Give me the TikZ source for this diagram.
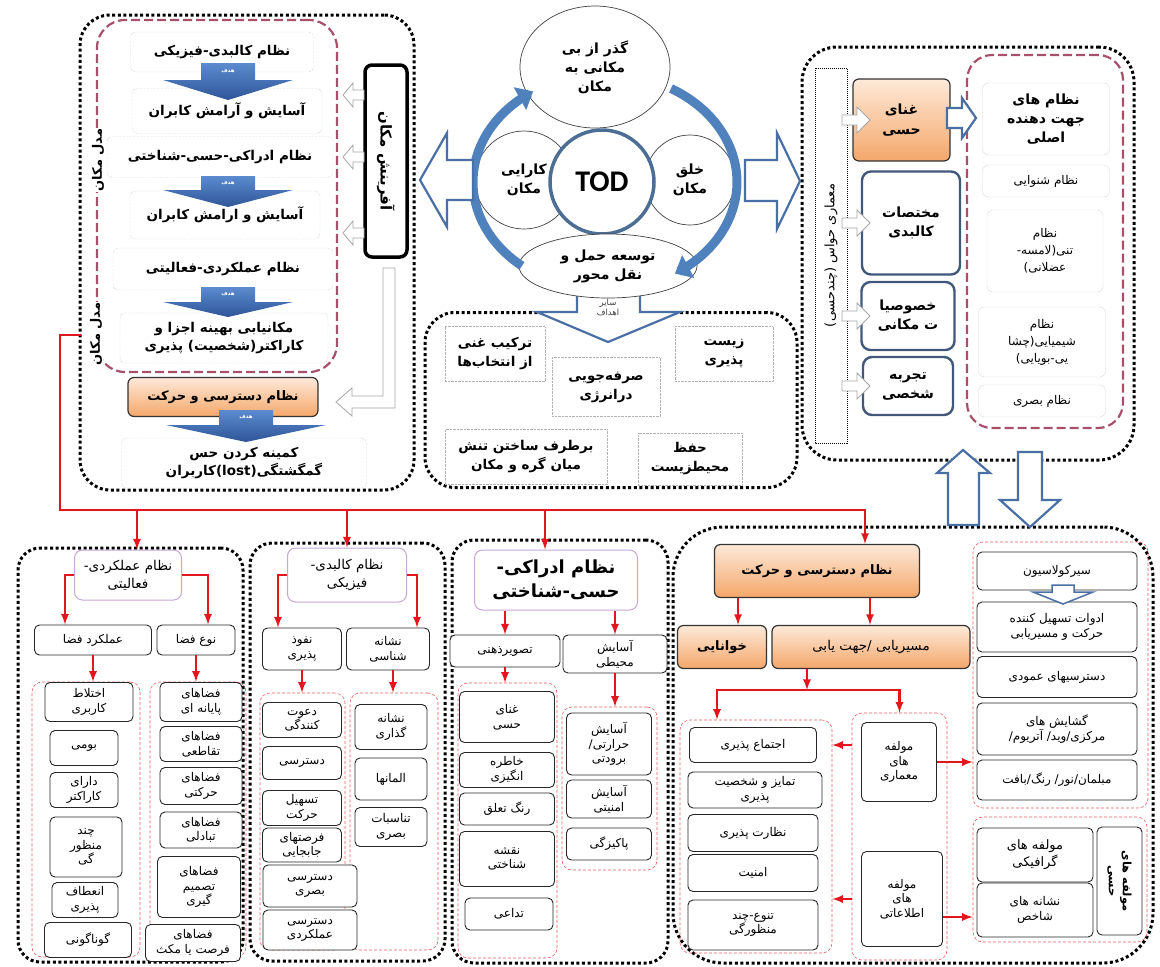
\documentclass[tikz,border=0pt]{standalone}
\usepackage{fontspec}
\usepackage{tikz}
\usetikzlibrary{shapes.geometric, arrows, arrows.meta}
\newfontfamily\farsi[Script=Arabic]{DejaVu Sans}
\newfontfamily\todfont{Carlito}
\TeXXeTstate=1
\newcommand{\rl}[1]{\beginR#1\endR}
\definecolor{peachtop}{HTML}{FDE9D9}
\definecolor{peachbot}{HTML}{F4A76A}
\definecolor{slate}{HTML}{41587A}
\definecolor{hollowblue}{HTML}{4A6FA5}
\definecolor{ringblue}{HTML}{4F81BD}
\definecolor{goaltop}{HTML}{5B8BD0}
\definecolor{goalbot}{HTML}{2E5597}
\definecolor{todblue}{HTML}{4C6E94}
\definecolor{linered}{HTML}{E3161E}
\definecolor{maroon}{HTML}{A8506A}
\definecolor{headviolet}{HTML}{C7A6D6}
\tikzstyle{panel} = [rectangle, draw=black, line width=3pt, dash pattern=on 3pt off 2.6pt, rounded corners=30pt]
\tikzstyle{modelframe} = [rectangle, rounded corners=28pt, draw=maroon, line width=2.2pt, dash pattern=on 9pt off 4pt]
\tikzstyle{sysbox} = [rectangle, rounded corners=5pt, draw=gray!60, densely dotted, fill=white, align=center,
    inner sep=1pt, font=\farsi\bfseries\fontsize{13.5}{18}\selectfont]
\tikzstyle{accessbox} = [rectangle, rounded corners=6pt, draw=black!80, line width=1.2pt, top color=peachtop,
    bottom color=peachbot, align=center, inner sep=1pt, font=\farsi\bfseries\fontsize{13}{17}\selectfont]
\tikzstyle{aimbox} = [rectangle, draw=gray!60, densely dotted, fill=white, align=center, inner sep=1pt,
    font=\farsi\bfseries\fontsize{13.5}{19}\selectfont]
\tikzstyle{roundshape} = [draw=black!75, line width=0.7pt, fill=white, align=center, inner sep=1pt,
    font=\farsi\bfseries\fontsize{14}{19}\selectfont]
\tikzstyle{senseitem} = [rectangle, rounded corners=9pt, draw=slate, line width=2.4pt, fill=white, align=center,
    inner sep=1pt, font=\farsi\bfseries\fontsize{14}{19}\selectfont]
\tikzstyle{sensesys} = [rectangle, rounded corners=6pt, draw=gray!30, fill=white, align=center, inner sep=1pt,
    font=\farsi\fontsize{12}{17}\selectfont]
\tikzstyle{headbox} = [rectangle, rounded corners=8pt, draw=headviolet, line width=1pt, fill=white, align=center,
    inner sep=1pt, font=\farsi\fontsize{13.5}{18}\selectfont]
\tikzstyle{itembox} = [rectangle, rounded corners=5pt, draw=black!85, line width=0.9pt, fill=white, align=center,
    inner sep=1pt, font=\farsi\fontsize{12}{14.5}\selectfont]
\tikzstyle{itemframe} = [rectangle, rounded corners=10pt, draw=linered!70, densely dashed, line width=0.6pt]
\tikzstyle{sidelabel} = [font=\farsi\bfseries\fontsize{13}{15}\selectfont, fill=white, inner sep=1pt]
\tikzstyle{hollowarrow} = [draw=hollowblue, line width=2.2pt, fill=white]
\tikzstyle{grayhollow} = [draw=gray!70, line width=0.8pt, fill=white]
\tikzstyle{goalarrow} = [top color=goaltop, bottom color=goalbot]
\tikzstyle{goaltag} = [font=\farsi\bfseries\fontsize{5.5}{6}\selectfont, text=white, inner sep=0pt]
\tikzstyle{redline} = [line width=2.6pt, draw=linered]
\tikzstyle{redarrow} = [redline, ->, >=latex]
\tikzstyle{ringarc} = [line width=9pt, draw=ringblue, -{Triangle[length=15pt,width=25pt]}]

\begin{document}
\begin{tikzpicture}[x=1pt, y=-1pt]
\useasboundingbox (0,0) rectangle (1160,967);

% Panels
\node[panel, minimum width=334, minimum height=475] (placepanel) at (247,252.5) {};
\node[panel, minimum width=372, minimum height=175] (aimpanel) at (611,400) {};
\node[panel, minimum width=332, minimum height=413, rounded corners=35pt] (sensepanel) at (968,253.5) {};
\node[panel, minimum width=225, minimum height=414, rounded corners=22pt] (perfpanel) at (130.5,755) {};
\node[panel, minimum width=195, minimum height=418, rounded corners=22pt] (kalpanel) at (347.5,752) {};
\node[panel, minimum width=216, minimum height=423, rounded corners=22pt] (edrakpanel) at (560,751.5) {};
\node[panel, minimum width=480, minimum height=436, rounded corners=50pt] (accesspanel) at (913,745) {};

% Place model (top left)
\node[modelframe, minimum width=240, minimum height=352] (modelbox) at (217,196) {};
\node[sidelabel, rotate=90] (model1) at (98,160) {\rl{مدل مکان}};
\node[sidelabel, rotate=90] (model2) at (96,334) {\rl{مدل مکان}};
\node[sysbox, minimum width=183, minimum height=40] (kalbadi) at (222,52) {\rl{نظام کالبدی-فیزیکی}};
\node[sysbox, minimum width=190, minimum height=45] (asayesh1) at (227,111) {\rl{آسایش و آرامش کابران}};
\node[sysbox, minimum width=226, minimum height=41] (edraki) at (220,157) {\rl{نظام ادراکی-حسی-شناختی}};
\node[sysbox, minimum width=190, minimum height=48] (asayesh2) at (225,215) {\rl{آسایش و ارامش کابران}};
\node[sysbox, minimum width=220, minimum height=42] (amalkardi) at (223,269) {\rl{نظام عملکردی-فعالیتی}};
\node[sysbox, minimum width=208, minimum height=50] (makanyabi) at (224,338)
    {\rl{مکانیابی بهینه اجزا و}\\\rl{کاراکتر(شخصیت) پذیری}};
\node[accessbox, minimum width=190, minimum height=39] (dastrasi1) at (223,397) {\rl{نظام دسترسی و حرکت}};
\node[sysbox, minimum width=245, minimum height=50] (gomgashtegi) at (244,463)
    {\rl{کمینه کردن حس}\\\rl{گمگشتگی(lost)کاربران}};
\node[draw=black, line width=3.5pt, rounded corners=7pt, fill=white, minimum width=192, minimum height=42,
    rotate=-90, font=\farsi\bfseries\fontsize{15}{17}\selectfont] (afarinesh) at (386,161) {\rl{آفرینش مکان}};
% Goal arrows
\path[goalarrow] (201,63) -- (255,63) -- (255,80) -- (293,80) -- (228,100) -- (163,80) -- (201,80) -- cycle;
\node[goaltag] (goal1) at (228,71) {\rl{هدف}};
\path[goalarrow] (201,176) -- (255,176) -- (255,190) -- (293,190) -- (228,207) -- (163,190) -- (201,190) -- cycle;
\node[goaltag] (goal2) at (228,183) {\rl{هدف}};
\path[goalarrow] (201,287) -- (255,287) -- (255,302) -- (293,302) -- (228,317) -- (163,302) -- (201,302) -- cycle;
\node[goaltag] (goal3) at (228,294) {\rl{هدف}};
\path[goalarrow] (219,410) -- (273,410) -- (273,425) -- (326,425) -- (246,442) -- (166,425) -- (219,425) -- cycle;
\node[goaltag] (goal4) at (246,417) {\rl{هدف}};
% Gray arrows
\draw[grayhollow] (364,90) -- (353,90) -- (353,83) -- (343,95) -- (353,107) -- (353,100) -- (364,100) -- cycle;
\draw[grayhollow, shift={(0,62)}] (364,90) -- (353,90) -- (353,83) -- (343,95) -- (353,107) -- (353,100) -- (364,100) -- cycle;
\draw[grayhollow, shift={(0,138)}] (364,90) -- (353,90) -- (353,83) -- (343,95) -- (353,107) -- (353,100) -- (364,100) -- cycle;
\draw[grayhollow] (383,268) -- (395,268) -- (395,408) -- (352,408) -- (352,416) -- (336,402) -- (352,388)
    -- (352,396) -- (383,396) -- cycle;

% Other goals (center bottom)
\path[hollowarrow] (577,290) -- (640,290) -- (640,312) -- (680,312) -- (608,342) -- (537,312) -- (577,312) -- cycle;
\node[aimbox, minimum width=100, minimum height=55] (tarkib) at (495,354) {\rl{ترکیب غنی}\\\rl{از انتخاب‌ها}};
\node[aimbox, minimum width=98, minimum height=55] (zist) at (724,354) {\rl{زیست}\\\rl{پذیری}};
\node[aimbox, minimum width=108, minimum height=59] (sarfe) at (606,387) {\rl{صرفه‌جویی}\\\rl{درانرژی}};
\node[aimbox, minimum width=162, minimum height=55] (bartaraf) at (526,457) {\rl{برطرف ساختن تنش}\\\rl{میان گره و مکان}};
\node[aimbox, minimum width=104, minimum height=52] (hefz) at (690,459) {\rl{حفظ}\\\rl{محیطزیست}};

% TOD cycle
\node[ellipse, roundshape, minimum width=150, minimum height=122] (gozar) at (595,67)
    {\rl{گذر از بی}\\\rl{مکانی به}\\\rl{مکان}};
\node[circle, roundshape, minimum size=98] (karayi) at (524,180) {\rl{کارایی}\\\rl{مکان}};
\node[circle, roundshape, minimum size=90] (khalgh) at (690,180) {\rl{خلق}\\\rl{مکان}};
\node[circle, draw=todblue, line width=3.5pt, fill=white, minimum size=104,
    font=\todfont\bfseries\fontsize{30}{30}\selectfont] (tod) at (602,182) {TOD};
\node[ellipse, roundshape, minimum width=178, minimum height=64] (tosee) at (608,266)
    {\rl{توسعه حمل و}\\\rl{نقل محور}};
\node[font=\farsi\fontsize{8.5}{10}\selectfont, text=black!75, align=center, inner sep=0pt] (sayer) at (608,307)
    {\rl{سایر}\\\rl{اهداف}};
\draw[ringarc] plot[domain=129:237, samples=40, smooth] ({605+132*cos(\x)}, {182+108*sin(\x)});
\draw[ringarc] plot[domain=-60:58, samples=40, smooth] ({605+132*cos(\x)}, {182+108*sin(\x)});
\path[hollowarrow] (473,160) -- (447,160) -- (447,133) -- (420,180) -- (447,227) -- (447,200) -- (473,200) -- cycle;
\path[hollowarrow] (745,160) -- (777,160) -- (777,133) -- (800,181) -- (777,229) -- (777,201) -- (745,201) -- cycle;

% Senses (top right)
\node[draw=black, densely dotted, line width=1pt, minimum width=375, minimum height=32, rotate=90,
    font=\farsi\fontsize{13}{15}\selectfont] (havas) at (831,255.5) {\rl{معماری حواس (چندحسی)}};
\node[modelframe, minimum width=156, minimum height=373, rounded corners=25pt] (senseframe) at (1045,241.5) {};
\node[accessbox, minimum width=97, minimum height=82, font=\farsi\bfseries\fontsize{14}{20}\selectfont] (ghana)
    at (901.5,120) {\rl{غنای}\\\rl{حسی}};
\node[senseitem, minimum width=98, minimum height=103] (mokhtasat) at (911,223) {\rl{مختصات}\\\rl{کالبدی}};
\node[senseitem, minimum width=93, minimum height=68] (khosusiat) at (908,316) {\rl{خصوصیا}\\\rl{ت مکانی}};
\node[senseitem, minimum width=90, minimum height=58] (tajrobe) at (908,386) {\rl{تجربه}\\\rl{شخصی}};
\draw[grayhollow] (842,115) -- (857,115) -- (857,107) -- (870,120) -- (857,133) -- (857,125) -- (842,125) -- cycle;
\draw[grayhollow, shift={(0,103)}] (842,115) -- (857,115) -- (857,107) -- (870,120) -- (857,133) -- (857,125) -- (842,125) -- cycle;
\draw[grayhollow, shift={(0,196)}] (842,115) -- (857,115) -- (857,107) -- (870,120) -- (857,133) -- (857,125) -- (842,125) -- cycle;
\draw[grayhollow, shift={(0,266)}] (842,115) -- (857,115) -- (857,107) -- (870,120) -- (857,133) -- (857,125) -- (842,125) -- cycle;
\path[hollowarrow] (947,108) -- (962,108) -- (962,98) -- (976,118) -- (962,138) -- (962,128) -- (947,128) -- cycle;
\node[sensesys, minimum width=127, minimum height=72, font=\farsi\bfseries\fontsize{14}{19}\selectfont] (jahat)
    at (1046,119) {\rl{نظام های}\\\rl{جهت دهنده}\\\rl{اصلی}};
\node[sensesys, minimum width=127, minimum height=32] (shenavayi) at (1046,181) {\rl{نظام شنوایی}};
\node[sensesys, minimum width=116, minimum height=82] (tani) at (1045,251) {\rl{نظام}\\\rl{تنی(لامسه-}\\\rl{عضلانی)}};
\node[sensesys, minimum width=127, minimum height=70] (shimiyayi) at (1042,342)
    {\rl{نظام}\\\rl{شیمیایی(چشا}\\\rl{یی-بویایی)}};
\node[sensesys, minimum width=127, minimum height=32] (basari) at (1042,401) {\rl{نظام بصری}};
\path[hollowarrow] (948,525) -- (948,473) -- (937,473) -- (963,450) -- (990,473) -- (979,473) -- (979,525) -- cycle;
\path[hollowarrow] (1018,452) -- (1042,452) -- (1042,500) -- (1060,500) -- (1030,527) -- (1000,500) -- (1018,500) -- cycle;

% Functional system
\node[headbox, minimum width=107, minimum height=50] (perfhead) at (128,575) {\rl{نظام عملکردی-}\\\rl{فعالیتی}};
\node[itembox, minimum width=117, minimum height=30] (func) at (93,640) {\rl{عملکرد فضا}};
\node[itembox, minimum width=78, minimum height=30] (type) at (196,640) {\rl{نوع فضا}};
\node[itemframe, minimum width=108, minimum height=275] (funcframe) at (86,819.5) {};
\node[itemframe, minimum width=96, minimum height=275] (typeframe) at (198,819.5) {};
\node[itembox, minimum width=88, minimum height=39] (ekhtelat) at (89,702) {\rl{اختلاط}\\\rl{کاربری}};
\node[itembox, minimum width=68, minimum height=35] (bumi) at (84,748) {\rl{بومی}};
\node[itembox, minimum width=68, minimum height=35] (darayi) at (84,790) {\rl{دارای}\\\rl{کاراکتر}};
\node[itembox, minimum width=72, minimum height=60] (chand) at (86,847) {\rl{چند}\\\rl{منظور}\\\rl{گی}};
\node[itembox, minimum width=66, minimum height=35] (enetaf) at (85,900) {\rl{انعطاف}\\\rl{پذیری}};
\node[itembox, minimum width=87, minimum height=35] (gunagun) at (88,940) {\rl{گوناگونی}};
\node[itembox, minimum width=82, minimum height=39] (payane) at (201,702) {\rl{فضاهای}\\\rl{پایانه ای}};
\node[itembox, minimum width=82, minimum height=35] (taghatoi) at (201,744) {\rl{فضاهای}\\\rl{تقاطعی}};
\node[itembox, minimum width=82, minimum height=37] (harakati) at (201,786) {\rl{فضاهای}\\\rl{حرکتی}};
\node[itembox, minimum width=82, minimum height=36] (tabadoli) at (201,830) {\rl{فضاهای}\\\rl{تبادلی}};
\node[itembox, minimum width=83, minimum height=61] (tasmim) at (199,887) {\rl{فضاهای}\\\rl{تصمیم}\\\rl{گیری}};
\node[itembox, minimum width=95, minimum height=37] (forsat) at (193,943) {\rl{فضاهای}\\\rl{فرصت یا مکث}};
\draw[redarrow] (perfhead.west) -| ([xshift=-28]func.north);
\draw[redarrow] (perfhead.east) -| ([xshift=12]type.north);
\draw[redarrow] (func.south) -- (func.south |- funcframe.north);
\draw[redarrow] (type.south) -- (type.south |- typeframe.north);

% Physical system
\node[headbox, minimum width=119, minimum height=54] (kalhead) at (347,575) {\rl{نظام کالبدی-}\\\rl{فیزیکی}};
\node[itembox, minimum width=79, minimum height=42] (nofuz) at (302,649) {\rl{نفوذ}\\\rl{پذیری}};
\node[itembox, minimum width=83, minimum height=42] (neshane) at (388,649) {\rl{نشانه}\\\rl{شناسی}};
\node[itemframe, minimum width=85, minimum height=257] (nofuzframe) at (302.5,821.5) {};
\node[itemframe, minimum width=88, minimum height=257] (neshaneframe) at (394,821.5) {};
\node[itembox, minimum width=79, minimum height=35] (davat) at (302,720) {\rl{دعوت}\\\rl{کنندگی}};
\node[itembox, minimum width=79, minimum height=33] (dastrasi2) at (302,763) {\rl{دسترسی}};
\node[itembox, minimum width=79, minimum height=35] (tashil) at (302,808) {\rl{تسهیل}\\\rl{حرکت}};
\node[itembox, minimum width=79, minimum height=34] (forsatha) at (302,845) {\rl{فرصتهای}\\\rl{جابجایی}};
\node[itembox, minimum width=94, minimum height=42] (basari2) at (310,886) {\rl{دسترسی}\\\rl{بصری}};
\node[itembox, minimum width=94, minimum height=40] (amalkardi2) at (310,930) {\rl{دسترسی}\\\rl{عملکردی}};
\node[itembox, minimum width=72, minimum height=45] (gozari) at (391,727) {\rl{نشانه}\\\rl{گذاری}};
\node[itembox, minimum width=72, minimum height=42] (elemanha) at (391,779) {\rl{المانها}};
\node[itembox, minimum width=72, minimum height=39] (tanasobat) at (391,827) {\rl{تناسبات}\\\rl{بصری}};
\draw[redarrow] (kalhead.west) -| ([xshift=-24]nofuz.north);
\draw[redarrow] (kalhead.east) -| ([xshift=29]neshane.north);
\draw[redarrow] (nofuz.south) -- (nofuz.south |- nofuzframe.north);
\draw[redarrow] ([xshift=5]neshane.south) -- ([xshift=5]neshane.south |- neshaneframe.north);

% Perceptual system
\node[headbox, minimum width=163, minimum height=60, font=\farsi\bfseries\fontsize{18}{24}\selectfont] (edrakhead)
    at (556,580) {\rl{نظام ادراکی-}\\\rl{حسی-شناختی}};
\node[itembox, minimum width=110, minimum height=32] (tasvir) at (505,651) {\rl{تصویرذهنی}};
\node[itembox, minimum width=104, minimum height=38] (mohiti) at (615,654) {\rl{آسایش}\\\rl{محیطی}};
\node[itemframe, minimum width=99, minimum height=275] (tasvirframe) at (507.5,820.5) {};
\node[itemframe, minimum width=95, minimum height=163] (mohitiframe) at (609.5,788.5) {};
\node[itembox, minimum width=95, minimum height=51] (ghana2) at (507,717) {\rl{غنای}\\\rl{حسی}};
\node[itembox, minimum width=95, minimum height=35] (khatere) at (507,770) {\rl{خاطره}\\\rl{انگیزی}};
\node[itembox, minimum width=95, minimum height=32] (rang) at (507,809) {\rl{رنگ تعلق}};
\node[itembox, minimum width=95, minimum height=55] (naghshe) at (507,859) {\rl{نقشه}\\\rl{شناختی}};
\node[itembox, minimum width=88, minimum height=32] (tadai) at (509,914) {\rl{تداعی}};
\node[itembox, minimum width=85, minimum height=62] (hararati) at (609,744) {\rl{آسایش}\\\rl{حرارتی/}\\\rl{برودتی}};
\node[itembox, minimum width=85, minimum height=38] (amniati) at (609,799) {\rl{آسایش}\\\rl{امنیتی}};
\node[itembox, minimum width=85, minimum height=32] (pakizegi) at (609,844) {\rl{پاکیزگی}};
\draw[redarrow] (edrakhead.south -| tasvir.north) -- (tasvir.north);
\draw[redarrow] (edrakhead.south -| mohiti.north) -- (mohiti.north);
\draw[redarrow] (tasvir.south) -- (tasvir.south |- tasvirframe.north);
\draw[redarrow] (mohiti.south) -- (mohiti.south |- mohitiframe.north);

% Access and movement system
\node[accessbox, minimum width=205, minimum height=53] (accesshead) at (817,571) {\rl{نظام دسترسی و حرکت}};
\node[accessbox, minimum width=89, minimum height=43] (khanayi) at (722,647) {\rl{خوانایی}};
\node[accessbox, minimum width=198, minimum height=43, font=\farsi\fontsize{13.5}{16}\selectfont] (masir)
    at (871,647) {\rl{مسیریابی /جهت یابی}};
\node[itemframe, minimum width=152, minimum height=233] (socialframe) at (756,836.5) {};
\node[itemframe, minimum width=95, minimum height=247] (compframe) at (899.5,836.5) {};
\node[itembox, minimum width=127, minimum height=35] (ejtema) at (753,745) {\rl{اجتماع پذیری}};
\node[itembox, minimum width=134, minimum height=36] (tamayoz) at (755,790) {\rl{تمایز و شخصیت}\\\rl{پذیری}};
\node[itembox, minimum width=130, minimum height=37] (nezarat) at (753,833) {\rl{نظارت پذیری}};
\node[itembox, minimum width=130, minimum height=37] (amniat) at (753,873) {\rl{امنیت}};
\node[itembox, minimum width=130, minimum height=50] (tanavo) at (753,925) {\rl{تنوع-چند}\\\rl{منظورگی}};
\node[itembox, minimum width=75, minimum height=79] (memari) at (899,762) {\rl{مولفه}\\\rl{های}\\\rl{معماری}};
\node[itembox, minimum width=81, minimum height=95] (etelaati) at (902,899) {\rl{مولفه}\\\rl{های}\\\rl{اطلاعاتی}};
\node[itemframe, minimum width=175, minimum height=266] (circframe) at (1060.5,675) {};
\node[itemframe, minimum width=174, minimum height=125] (graphframe) at (1060,879.5) {};
\node[itembox, minimum width=160, minimum height=38] (sirkulasion) at (1057,571) {\rl{سیرکولاسیون}};
\node[itembox, minimum width=160, minimum height=50] (adavat) at (1057,627) {\rl{ادوات تسهیل کننده}\\\rl{حرکت و مسیریابی}};
\node[itembox, minimum width=160, minimum height=41] (amudi) at (1057,677) {\rl{دسترسیهای عمودی}};
\node[itembox, minimum width=160, minimum height=52] (goshayesh) at (1057,729) {\rl{گشایش های}\\\rl{مرکزی/وید/ آتریوم/}};
\node[itembox, minimum width=160, minimum height=40] (moblman) at (1057,780) {\rl{مبلمان/نور/ رنگ/بافت}};
\node[itembox, minimum width=116, minimum height=54, font=\farsi\fontsize{13}{17}\selectfont] (graphic)
    at (1035,855) {\rl{مولفه های}\\\rl{گرافیکی}};
\node[itembox, minimum width=116, minimum height=54] (shakhes) at (1035,910) {\rl{نشانه های}\\\rl{شاخص}};
\node[itembox, minimum width=108, minimum height=45, rotate=-90, font=\farsi\bfseries\fontsize{11.5}{14}\selectfont]
    (hesi) at (1119.5,881) {\rl{مولفه های}\\\rl{حسی}};
\path[hollowarrow, line width=1.5pt] (1052,585) -- (1074,585) -- (1074,592) -- (1093,592) -- (1063,604) -- (1033,592)
    -- (1052,592) -- cycle;
\draw[redarrow] ([xshift=-79]accesshead.south) -- ([xshift=16]khanayi.north);
\draw[redarrow] ([xshift=53]accesshead.south) -- ([xshift=-1]masir.north);
\coordinate (fork) at (807,690);
\draw[redarrow] (masir.south -| fork) -- (fork);
\draw[redarrow] (fork) -| ([xshift=-39]socialframe.north);
\draw[redarrow] (fork) -| (compframe.north);
\draw[redarrow] (compframe.west |- ejtema) -- (socialframe.east |- ejtema);
\draw[redarrow] (compframe.west |- etelaati) -- (socialframe.east |- etelaati);
\draw[redarrow] (memari.east) -- (circframe.west |- memari.east);
\coordinate (etelaatiout) at ([yshift=-18]etelaati.east);
\draw[redarrow] (etelaatiout) -- (graphframe.west |- etelaatiout);

% Red trunk
\coordinate (redstart) at (81,335);
\coordinate (trunkbend) at (60,510);
\draw[redarrow] (redstart) -| (trunkbend) -| ([xshift=48]accesshead.north);
\draw[redarrow] ([xshift=9]perfhead.north |- trunkbend) -- ([xshift=9]perfhead.north);
\draw[redarrow] (kalhead.north |- trunkbend) -- (kalhead.north);
\draw[redarrow] ([xshift=-11]edrakhead.north |- trunkbend) -- ([xshift=-11]edrakhead.north);
\end{tikzpicture}
\end{document}
